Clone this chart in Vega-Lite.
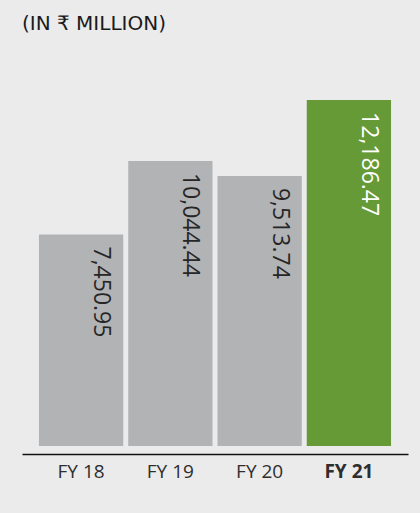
{
  "$schema": "https://vega.github.io/schema/vega-lite/v6.json",
  "autosize": "none",
  "width": 386,
  "height": 369,
  "padding": {"left": 22, "top": 77, "right": 12, "bottom": 67},
  "background": "#ebebeb",
  "config": {"view": {"stroke": null}, "font": "Open Sans"},
  "title": {"text": "(IN ₹ MILLION)", "anchor": "start", "frame": "group", "fontSize": 20, "fontWeight": "normal", "color": "#1a1a1a", "offset": 43, "font": "DejaVu Sans"},
  "data": {"values": [
    {"year": "FY 18", "value": 7450.95, "hl": "no"},
    {"year": "FY 19", "value": 10044.44, "hl": "no"},
    {"year": "FY 20", "value": 9513.74, "hl": "no"},
    {"year": "FY 21", "value": 12186.47, "hl": "yes"}
  ]},
  "encoding": {
    "x": {"field": "year", "type": "nominal", "sort": null,
      "scale": {"paddingInner": 0.056, "paddingOuter": 0.19},
      "axis": {"title": null, "labelAngle": 0, "ticks": false, "offset": 8, "domainColor": "#111111", "domainWidth": 1.5,
        "labelFontSize": 19, "labelColor": "#2e2e2e", "labelPadding": 8, "labelFont": "Open Sans",
        "labelFontWeight": {"condition": {"test": "datum.value === 'FY 21'", "value": "bold"}, "value": "normal"}}},
    "y": {"field": "value", "type": "quantitative", "scale": {"domain": [0, 13000]}, "axis": null}
  },
  "layer": [
    {"mark": {"type": "bar"},
     "encoding": {"color": {"field": "hl", "type": "nominal", "scale": {"domain": ["no", "yes"], "range": ["#b2b3b5", "#659a37"]}, "legend": null}}},
    {"mark": {"type": "text", "angle": 90, "align": "left", "baseline": "alphabetic", "dx": 12, "dy": -13, "fontSize": 23, "fontWeight": 500},
     "encoding": {"text": {"field": "value", "type": "quantitative", "format": ",.2f"},
       "color": {"field": "hl", "type": "nominal", "scale": {"domain": ["no", "yes"], "range": ["#262626", "#ffffff"]}, "legend": null}}}
  ],
  "resolve": {"scale": {"color": "independent"}}
}
